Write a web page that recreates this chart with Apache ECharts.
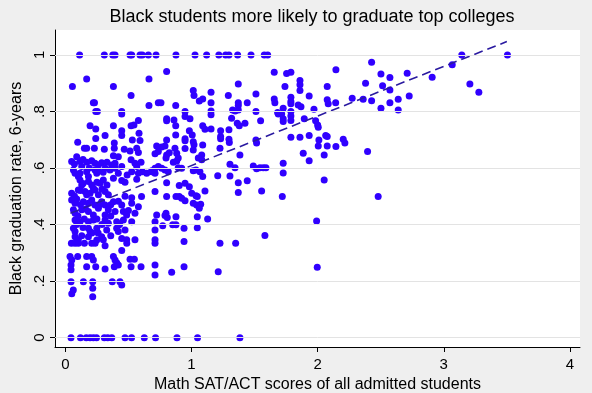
<!DOCTYPE html>
<html><head><meta charset="utf-8">
<script src="https://cdn.jsdelivr.net/npm/echarts@6/dist/echarts.min.js"></script>
<style>html,body{margin:0;padding:0;background:#efefef}#c{width:592px;height:393px}</style>
</head><body><div id="c"></div>
<script>
const titleText = 'Black students more likely to graduate top colleges';
const xName = 'Math SAT/ACT scores of all admitted students';
const yName = 'Black graduation rate, 6-years';
const xTicks = [0, 1, 2, 3, 4];
const xTickLabels = ['0', '1', '2', '3', '4'];
const yTicks = [0, 0.2, 0.4, 0.6, 0.8, 1];
const yTickLabels = ['0', '.2', '.4', '.6', '.8', '1'];

// colleges with graduation rate exactly 1 and exactly 0 (x values)
const rateOneX = [0.113,0.309,0.376,0.394,0.513,0.526,0.592,0.610,0.658,0.719,0.877,1.028,1.120,1.217,1.271,1.297,1.366,1.472,1.577,1.604,3.143,3.505];
const rateZeroX = [0.045,0.120,0.166,0.196,0.222,0.247,0.309,0.336,0.368,0.473,0.525,0.626,0.715,0.885,1.048,1.384];

// upper-left cloud
const cloudUpperLeft = [[.169,.915],[.056,.888],[.381,.888],[.663,.915],[.521,.856],[.222,.831],[.231,.831],[.241,.8],[.254,.8],[.447,.8],[.447,.791],[.663,.821],[.737,.831],[.758,.831],[.803,.941],
[.196,.749],[.241,.738],[.315,.715],[.381,.749],[.447,.732],[.447,.715],[.521,.749],[.544,.752],[.579,.768],[.584,.723],[.531,.699],[.592,.697],[.241,.704],[.098,.691],[.151,.67],[.169,.67],[.23,.67],[.309,.666],[.388,.688],[.388,.67],[.467,.666],[.724,.678]];

// middle cloud (x 0.75 - 1.7)
const cloudMiddle = [[1.656,.939],[1.371,.897],[1.014,.874],[1.02,.856],[1.155,.868],[1.089,.844],[1.062,.837],[1.155,.831],[1.292,.856],[1.371,.831],[1.371,.821],[1.442,.831],[1.511,.862],[1.656,.844],[1.661,.831],[.875,.821],[.949,.8],[1.155,.802],[1.155,.788],[1.326,.805],[1.346,.802],[1.371,.805],[1.511,.8],[1.688,.791],
[.803,.774],[.803,.767],[.861,.77],[.875,.749],[.949,.782],[.988,.774],[1.318,.776],[1.363,.758],[1.379,.749],[1.424,.758],[1.548,.767],[1.089,.749],[1.107,.737],[1.155,.738],[1.231,.732],[1.297,.735],[.983,.732],[1.006,.717],[.875,.717],[.803,.699],[.949,.703],[.949,.696],[1.014,.693],[1.02,.682],[1.014,.664],[1.089,.681],[1.231,.711],[1.231,.703],[1.297,.702],[1.3,.69],[1.226,.67],[1.511,.699],[1.516,.688],[.79,.678],[.764,.674],[.869,.67],[.883,.652],[.949,.669],[.824,.654],[.803,.646],[1.081,.646],[1.384,.646],
[.798,.635],[.856,.62],[.883,.625],[.895,.635],[1.081,.629],[1.054,.635],[.764,.599],[.79,.593],[.816,.587],[.895,.601],[.922,.599],[1.014,.59],[1.036,.593],[1.067,.587],[1.089,.57],[1.208,.573],[1.305,.613],[1.345,.601],[1.305,.572],[1.371,.548],[1.371,.513],[1.442,.555],[1.49,.607],[1.516,.597],[1.543,.601],[1.569,.601],[1.59,.601],[1.556,.519],[.803,.548],[.903,.538],[.949,.546],[.983,.534],[1.002,.511],[1.036,.502],[1.046,.499],[1.107,.519],[.803,.499],[.877,.499],[.903,.499],[.922,.493],[.949,.484],[1.014,.475],[1.041,.469],[1.073,.472],[1.062,.458],[.798,.44],[.79,.432],[.808,.425],[.877,.428],[1.046,.428],[1.128,.42],[.772,.396],[.851,.399],[.877,.399],[.941,.387],[1.046,.389],[1.582,.361],[.941,.34],[1.226,.334],[1.35,.334],[.941,.251],[.843,.231],[1.212,.233]];

// right cloud (x > 1.7)
const cloudRight = [[2.428,.974],[2.145,.947],[1.754,.934],[1.788,.939],[2.502,.932],[2.573,.92],[1.86,.909],[1.86,.894],[1.86,.874],[1.741,.888],[2.076,.888],[2.38,.9],[2.515,.891],[2.573,.876],[1.933,.855],[1.788,.85],[1.788,.835],[1.788,.827],[1.846,.823],[1.868,.817],[1.727,.811],[2.076,.841],[2.084,.827],[2.143,.831],[2.274,.847],[2.361,.843],[2.428,.838],[2.573,.831],[2.639,.843],[2.502,.811],[2.639,.805],[1.971,.808],[1.683,.796],[1.715,.791],[1.788,.8],[1.788,.784],[1.788,.768],[1.727,.774],[1.727,.764],[1.894,.774],[1.984,.767],[2.0,.752],[2.005,.744],[1.788,.709],[1.86,.709],[1.933,.715],[2.01,.699],[2.005,.678],[2.064,.715],[2.076,.711],[2.076,.678],[2.145,.676],[2.203,.702],[2.216,.688],[2.396,.658],[1.886,.652],[1.933,.626],[2.052,.646],[1.727,.617],[1.727,.582],[2.052,.558],
[3.067,.965],[2.71,.935],[2.908,.921],[3.207,.897],[3.278,.868],[2.726,.855],
[1.72,.499],[2.48,.499],[1.992,.413],[1.997,.249]];

// dense lower-left cloud
const cloudDense = [[.381,.643],[.513,.660],[.566,.670],[.579,.655],[.711,.650],[.737,.658],
[.050,.623],[.072,.614],[.116,.623],[.130,.605],[.209,.626],[.235,.617],[.262,.611],[.288,.619],[.367,.611],[.394,.617],[.447,.605],[.521,.629],[.552,.617],[.566,.605],[.684,.587],[.711,.599],[.737,.605],
[.064,.593],[.077,.581],[.103,.570],[.116,.581],[.169,.587],[.183,.570],[.235,.593],[.249,.581],[.315,.599],[.354,.593],[.394,.599],[.420,.581],[.526,.587],[.579,.581],[.610,.587],[.645,.581],[.711,.581],
[.116,.558],[.130,.540],[.183,.552],[.209,.540],[.222,.528],[.275,.546],[.301,.558],[.381,.564],[.447,.556],[.473,.550],[.566,.560],[.685,.590],
[.050,.511],[.072,.501],[.103,.522],[.156,.517],[.169,.505],[.196,.511],[.235,.522],[.262,.505],[.315,.517],[.341,.505],[.473,.500],[.526,.495],[.604,.499],[.711,.517],
[.050,.487],[.077,.475],[.143,.481],[.183,.475],[.209,.487],[.235,.469],[.288,.481],[.315,.469],[.381,.481],[.420,.482],[.447,.469],[.526,.475],[.579,.463],
[.064,.452],[.077,.440],[.130,.452],[.183,.446],[.222,.434],[.262,.458],[.315,.434],[.341,.452],[.394,.446],[.460,.446],[.486,.434],[.552,.440],[.724,.434],
[.077,.416],[.116,.410],[.183,.410],[.222,.416],[.315,.416],[.341,.405],[.407,.410],[.420,.399],[.460,.416],[.526,.410],[.711,.410],
[.064,.387],[.077,.375],[.183,.387],[.196,.375],[.249,.387],[.328,.381],[.407,.387],[.420,.375],[.473,.381],[.711,.381],
[.077,.357],[.103,.346],[.183,.357],[.288,.357],[.301,.346],[.447,.351],[.486,.346],[.711,.346],[.315,.325],
[.09,.64],[.14,.63],[.17,.62],[.19,.60],[.26,.59],[.30,.585],[.33,.62],[.12,.52],[.14,.545],[.25,.55],[.29,.525],[.33,.54],[.09,.49],[.12,.47],[.16,.455],[.27,.47],[.36,.47],[.10,.43],[.15,.42],[.25,.42],[.29,.40],[.36,.43],[.09,.40],[.14,.39],[.26,.37],[.13,.36],[.21,.37],[.36,.36],[.43,.40],[.50,.45],[.49,.575],[.60,.62],[.42,.64]];

// lower-left cloud
const cloudLow = [[.048,.334],[.077,.334],[.103,.334],[.151,.334],[.209,.334],[.236,.334],[.249,.345],[.487,.334],[.552,.346],[.711,.334],[.447,.308],[.037,.287],[.051,.275],[.045,.257],[.045,.24],[.098,.287],[.169,.287],[.209,.287],[.222,.275],[.169,.251],[.241,.251],[.315,.243],[.381,.287],[.394,.275],[.407,.265],[.42,.257],[.388,.251],[.513,.277],[.547,.277],[.521,.251],[.6,.251],[.711,.257],[.711,.222],[.045,.198],[.143,.198],[.217,.198],[.217,.175],[.217,.145],[.372,.198],[.433,.198],[.447,.186],[.063,.169],[.051,.155]];

// fitted line end points
const fitX = [0.04, 3.5];
const fitY = [0.44, 1.047];

const pts = [].concat(
  rateOneX.map(x => [x, 1]),
  rateZeroX.map(x => [x, 0]),
  cloudUpperLeft, cloudMiddle, cloudRight, cloudDense, cloudLow
);

const chart = echarts.init(document.getElementById('c'), null, {renderer: 'canvas'});
const F = 'Liberation Sans, Arial, sans-serif';
chart.setOption({
  backgroundColor: '#efefef',
  animation: false,
  title: {
    text: titleText, left: 307, top: 3, textAlign: 'center',
    textStyle: {fontFamily: F, fontSize: 18, fontWeight: 'normal', color: '#000'}
  },
  grid: {left: 55, right: 12, top: 30, bottom: 46, show: true, backgroundColor: '#fff', borderWidth: 0,
         containLabel: false, outerBoundsMode: 'none'},
  xAxis: {
    type: 'value', min: -0.082, max: 4.08,
    axisLine: {show: true, onZero: false, lineStyle: {color: '#000', width: 1}},
    axisTick: {show: true, customValues: xTicks, length: 5, lineStyle: {color: '#000'}},
    axisLabel: {customValues: xTicks, formatter: v => xTickLabels[xTicks.indexOf(v)] ?? '', fontFamily: F, fontSize: 15, color: '#000', margin: 10},
    splitLine: {show: false},
    name: xName, nameLocation: 'middle', nameGap: 27,
    nameTextStyle: {fontFamily: F, fontSize: 16, color: '#000'}
  },
  yAxis: {
    type: 'value', min: -0.033, max: 1.088,
    axisLine: {show: true, onZero: false, lineStyle: {color: '#000', width: 1}},
    axisTick: {show: true, customValues: yTicks, length: 5, lineStyle: {color: '#000'}},
    axisLabel: {customValues: yTicks, rotate: 90, formatter: v => yTickLabels[yTicks.indexOf(v)] ?? '', fontFamily: F, fontSize: 15, color: '#000', margin: 8},
    splitLine: {show: false},
    name: yName, nameLocation: 'middle', nameGap: 22, nameRotate: 90,
    nameTextStyle: {fontFamily: F, fontSize: 16, color: '#000'}
  },
  series: [
    {
      type: 'line', data: [], z: 1, silent: true,
      markLine: {
        silent: true, symbol: 'none', label: {show: false}, animation: false,
        lineStyle: {color: '#e3e3e3', width: 1, type: 'solid'},
        data: yTicks.map(v => ({yAxis: v}))
      }
    },
    {
      type: 'scatter', z: 3, data: pts, symbol: 'circle', symbolSize: 7,
      itemStyle: {color: '#3000ff', opacity: 1}
    },
    {
      type: 'line', z: 4, data: fitX.map((x, i) => [x, fitY[i]]), symbol: 'none',
      lineStyle: {color: '#2a1aa0', width: 1.6, type: [9, 5]}
    }
  ]
});
</script>
</body></html>
